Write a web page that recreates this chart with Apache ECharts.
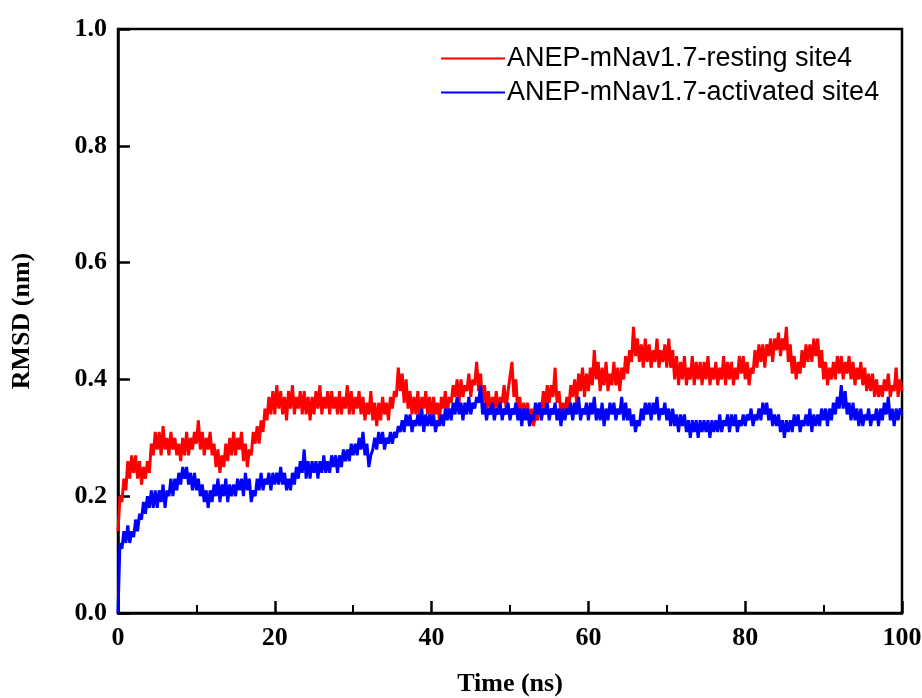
<!DOCTYPE html>
<html>
<head>
<meta charset="utf-8">
<script src="https://cdn.jsdelivr.net/npm/echarts@6/dist/echarts.min.js"></script>
<style>
  html, body { margin: 0; padding: 0; background: #fff; }
  #main { width: 922px; height: 698px; }
</style>
</head>
<body>
<div id="main"></div>
<script>
// series names
var names = ['ANEP-mNav1.7-resting site4', 'ANEP-mNav1.7-activated site4'];

// sampling step of the trace (ns)
var step = 0.25;

// RMSD (nm), resting state, every 0.25 ns from 0 to 100 (one row = 5 ns)
var resting = [
  0.14, 0.20, 0.19, 0.23, 0.21, 0.26, 0.23, 0.27, 0.24, 0.27, 0.23, 0.26, 0.22, 0.25, 0.23, 0.26, 0.24, 0.29, 0.27, 0.31,
  0.28, 0.31, 0.27, 0.32, 0.28, 0.30, 0.27, 0.31, 0.28, 0.30, 0.27, 0.29, 0.26, 0.30, 0.27, 0.31, 0.27, 0.30, 0.28, 0.31,
  0.29, 0.33, 0.28, 0.31, 0.27, 0.30, 0.28, 0.31, 0.27, 0.29, 0.25, 0.28, 0.24, 0.27, 0.25, 0.29, 0.26, 0.30, 0.27, 0.31,
  0.27, 0.30, 0.28, 0.31, 0.26, 0.29, 0.25, 0.28, 0.27, 0.31, 0.29, 0.32, 0.29, 0.33, 0.31, 0.35, 0.33, 0.37, 0.34, 0.38,
  0.34, 0.39, 0.35, 0.38, 0.34, 0.37, 0.33, 0.38, 0.35, 0.39, 0.34, 0.37, 0.35, 0.38, 0.34, 0.38, 0.34, 0.37, 0.33, 0.37,
  0.34, 0.38, 0.35, 0.39, 0.34, 0.37, 0.35, 0.38, 0.34, 0.38, 0.35, 0.37, 0.34, 0.38, 0.34, 0.37, 0.35, 0.39, 0.34, 0.38,
  0.34, 0.37, 0.35, 0.38, 0.34, 0.37, 0.33, 0.36, 0.34, 0.38, 0.33, 0.36, 0.32, 0.36, 0.33, 0.37, 0.34, 0.36, 0.33, 0.37,
  0.35, 0.38, 0.37, 0.42, 0.38, 0.41, 0.36, 0.40, 0.35, 0.38, 0.34, 0.37, 0.34, 0.38, 0.33, 0.37, 0.35, 0.38, 0.34, 0.37,
  0.33, 0.37, 0.34, 0.36, 0.33, 0.37, 0.35, 0.38, 0.34, 0.37, 0.36, 0.39, 0.37, 0.40, 0.36, 0.40, 0.37, 0.39, 0.38, 0.41,
  0.37, 0.40, 0.39, 0.43, 0.38, 0.41, 0.36, 0.39, 0.35, 0.38, 0.34, 0.37, 0.35, 0.38, 0.34, 0.37, 0.36, 0.39, 0.35, 0.38,
  0.38, 0.43, 0.37, 0.40, 0.34, 0.37, 0.33, 0.36, 0.34, 0.36, 0.32, 0.35, 0.32, 0.34, 0.33, 0.36, 0.34, 0.38, 0.35, 0.39,
  0.36, 0.39, 0.37, 0.42, 0.36, 0.38, 0.34, 0.36, 0.34, 0.37, 0.35, 0.39, 0.37, 0.40, 0.36, 0.41, 0.38, 0.42, 0.37, 0.41,
  0.38, 0.42, 0.39, 0.45, 0.40, 0.43, 0.38, 0.42, 0.39, 0.43, 0.38, 0.41, 0.39, 0.43, 0.39, 0.42, 0.38, 0.42, 0.40, 0.44,
  0.41, 0.45, 0.43, 0.49, 0.44, 0.47, 0.43, 0.46, 0.42, 0.47, 0.43, 0.46, 0.42, 0.45, 0.43, 0.47, 0.42, 0.45, 0.43, 0.46,
  0.42, 0.47, 0.42, 0.45, 0.40, 0.44, 0.39, 0.43, 0.40, 0.44, 0.39, 0.42, 0.40, 0.44, 0.39, 0.43, 0.40, 0.43, 0.39, 0.43,
  0.40, 0.44, 0.39, 0.42, 0.40, 0.43, 0.39, 0.42, 0.40, 0.44, 0.39, 0.43, 0.40, 0.43, 0.39, 0.42, 0.40, 0.44, 0.41, 0.44,
  0.40, 0.43, 0.39, 0.42, 0.41, 0.45, 0.42, 0.46, 0.43, 0.46, 0.42, 0.46, 0.44, 0.47, 0.43, 0.47, 0.45, 0.48, 0.44, 0.47,
  0.45, 0.49, 0.43, 0.46, 0.41, 0.44, 0.40, 0.43, 0.41, 0.45, 0.42, 0.46, 0.43, 0.46, 0.43, 0.47, 0.44, 0.47, 0.42, 0.45,
  0.40, 0.43, 0.39, 0.42, 0.40, 0.43, 0.40, 0.44, 0.41, 0.44, 0.40, 0.43, 0.41, 0.44, 0.40, 0.43, 0.39, 0.42, 0.40, 0.43,
  0.39, 0.42, 0.38, 0.41, 0.38, 0.41, 0.37, 0.40, 0.37, 0.39, 0.37, 0.40, 0.38, 0.41, 0.37, 0.39, 0.38, 0.42, 0.37, 0.40,
  0.38
];

// RMSD (nm), activated state, every 0.25 ns from 0 to 100 (one row = 5 ns)
var activated = [
  0.00, 0.12, 0.11, 0.14, 0.12, 0.15, 0.12, 0.14, 0.13, 0.16, 0.14, 0.17, 0.16, 0.19, 0.17, 0.20, 0.18, 0.21, 0.18, 0.21,
  0.18, 0.21, 0.19, 0.22, 0.18, 0.21, 0.20, 0.23, 0.20, 0.23, 0.21, 0.24, 0.22, 0.25, 0.23, 0.25, 0.22, 0.24, 0.21, 0.24,
  0.21, 0.23, 0.20, 0.22, 0.19, 0.21, 0.18, 0.21, 0.19, 0.22, 0.20, 0.23, 0.19, 0.22, 0.20, 0.23, 0.19, 0.22, 0.20, 0.22,
  0.20, 0.23, 0.21, 0.23, 0.20, 0.24, 0.21, 0.23, 0.19, 0.21, 0.20, 0.23, 0.21, 0.24, 0.21, 0.23, 0.22, 0.24, 0.21, 0.24,
  0.22, 0.24, 0.22, 0.25, 0.22, 0.24, 0.21, 0.23, 0.21, 0.24, 0.22, 0.25, 0.23, 0.26, 0.24, 0.28, 0.23, 0.26, 0.23, 0.26,
  0.24, 0.26, 0.23, 0.26, 0.24, 0.27, 0.24, 0.26, 0.24, 0.27, 0.25, 0.27, 0.24, 0.27, 0.25, 0.28, 0.26, 0.28, 0.26, 0.29,
  0.27, 0.29, 0.27, 0.30, 0.28, 0.31, 0.27, 0.29, 0.25, 0.27, 0.28, 0.30, 0.28, 0.31, 0.29, 0.31, 0.28, 0.30, 0.29, 0.31,
  0.29, 0.31, 0.30, 0.32, 0.31, 0.33, 0.31, 0.34, 0.32, 0.34, 0.31, 0.33, 0.32, 0.34, 0.32, 0.35, 0.31, 0.34, 0.32, 0.34,
  0.32, 0.34, 0.31, 0.33, 0.32, 0.34, 0.32, 0.35, 0.33, 0.35, 0.33, 0.36, 0.34, 0.37, 0.34, 0.36, 0.33, 0.36, 0.34, 0.37,
  0.34, 0.36, 0.35, 0.37, 0.36, 0.39, 0.34, 0.36, 0.33, 0.35, 0.34, 0.36, 0.33, 0.35, 0.34, 0.36, 0.33, 0.35, 0.34, 0.36,
  0.33, 0.35, 0.34, 0.36, 0.33, 0.35, 0.32, 0.35, 0.33, 0.35, 0.32, 0.34, 0.33, 0.36, 0.34, 0.36, 0.33, 0.35, 0.34, 0.36,
  0.33, 0.35, 0.34, 0.36, 0.33, 0.35, 0.32, 0.35, 0.33, 0.35, 0.34, 0.36, 0.33, 0.36, 0.34, 0.37, 0.33, 0.35, 0.34, 0.36,
  0.33, 0.36, 0.34, 0.37, 0.33, 0.35, 0.33, 0.36, 0.32, 0.35, 0.33, 0.36, 0.34, 0.36, 0.33, 0.35, 0.34, 0.37, 0.33, 0.36,
  0.33, 0.35, 0.32, 0.34, 0.31, 0.33, 0.32, 0.35, 0.33, 0.36, 0.34, 0.36, 0.33, 0.36, 0.34, 0.37, 0.33, 0.35, 0.34, 0.36,
  0.33, 0.35, 0.32, 0.35, 0.32, 0.34, 0.31, 0.34, 0.32, 0.34, 0.31, 0.33, 0.30, 0.33, 0.31, 0.33, 0.30, 0.33, 0.31, 0.33,
  0.31, 0.33, 0.30, 0.33, 0.31, 0.33, 0.31, 0.34, 0.31, 0.33, 0.32, 0.34, 0.31, 0.34, 0.32, 0.34, 0.31, 0.33, 0.32, 0.34,
  0.32, 0.34, 0.33, 0.35, 0.32, 0.34, 0.33, 0.35, 0.33, 0.36, 0.34, 0.36, 0.33, 0.35, 0.32, 0.34, 0.32, 0.34, 0.31, 0.33,
  0.30, 0.33, 0.31, 0.33, 0.31, 0.34, 0.32, 0.34, 0.31, 0.33, 0.32, 0.34, 0.32, 0.35, 0.31, 0.34, 0.32, 0.34, 0.32, 0.35,
  0.33, 0.35, 0.32, 0.35, 0.33, 0.36, 0.34, 0.37, 0.35, 0.39, 0.35, 0.38, 0.34, 0.36, 0.33, 0.36, 0.33, 0.35, 0.32, 0.35,
  0.32, 0.34, 0.33, 0.35, 0.32, 0.34, 0.33, 0.35, 0.32, 0.35, 0.33, 0.36, 0.34, 0.37, 0.33, 0.35, 0.32, 0.35, 0.33, 0.35,
  0.34
];

function pairs(arr) {
  var out = [];
  for (var i = 0; i < arr.length; i++) {
    out.push([i * step, arr[i]]);
  }
  return out;
}

var chart = echarts.init(document.getElementById('main'));

var axisFont = {
  fontFamily: 'Liberation Serif',
  fontWeight: 'bold',
  fontSize: 26,
  color: '#000'
};

var option = {
  animation: false,
  backgroundColor: '#fff',
  grid: {
    left: 118,
    top: 29,
    width: 784,
    height: 584,
    outerBoundsMode: 'none',
    containLabel: false,
    show: true,
    borderColor: '#000',
    borderWidth: 2.5,
    backgroundColor: 'transparent'
  },
  legend: {
    orient: 'vertical',
    left: 436,
    top: 40,
    itemWidth: 64,
    itemHeight: 27,
    itemGap: 7,
    icon: 'path://M0,12 L64,12 L64,14 L0,14 Z',
    data: names,
    textStyle: {
      fontFamily: 'Liberation Sans',
      fontSize: 27,
      color: '#000',
      padding: [0, 0, 0, -3]
    }
  },
  xAxis: {
    type: 'value',
    min: 0,
    max: 100,
    interval: 20,
    name: 'Time (ns)',
    nameLocation: 'middle',
    nameGap: 58,
    nameTextStyle: axisFont,
    axisLine: { lineStyle: { color: '#000', width: 2.5 } },
    axisTick: { inside: true, length: 12, lineStyle: { color: '#000', width: 2.5 } },
    minorTick: { show: true, splitNumber: 2, length: 8, lineStyle: { color: '#000', width: 2 } },
    axisLabel: Object.assign({ margin: 12 }, axisFont),
    splitLine: { show: false }
  },
  yAxis: {
    type: 'value',
    min: 0,
    max: 1,
    interval: 0.2,
    name: 'RMSD (nm)',
    nameLocation: 'middle',
    nameGap: 83,
    nameTextStyle: axisFont,
    axisLine: { lineStyle: { color: '#000', width: 2.5 } },
    axisTick: { inside: true, length: 12, lineStyle: { color: '#000', width: 2.5 } },
    axisLabel: Object.assign({
      margin: 11,
      formatter: function (v) { return v.toFixed(1); }
    }, axisFont),
    splitLine: { show: false }
  },
  series: [
    {
      name: names[0],
      type: 'line',
      data: pairs(resting),
      symbol: 'none',
      color: '#ff0000',
      lineStyle: { color: '#ff0000', width: 3 }
    },
    {
      name: names[1],
      type: 'line',
      data: pairs(activated),
      symbol: 'none',
      color: '#0000ff',
      lineStyle: { color: '#0000ff', width: 3 }
    }
  ]
};

chart.setOption(option);
</script>
</body>
</html>
